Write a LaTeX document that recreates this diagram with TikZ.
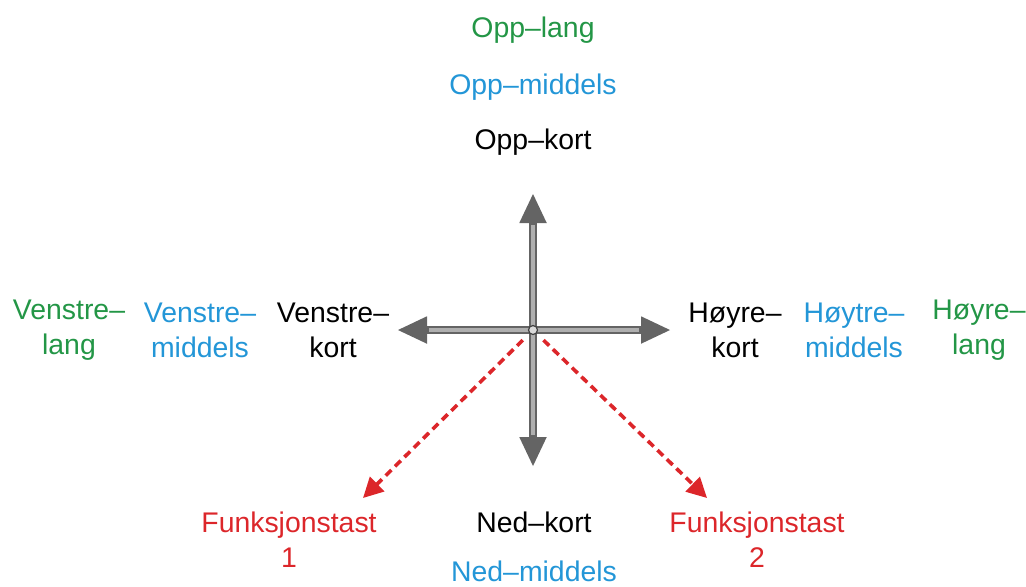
\documentclass[tikz,border=0pt]{standalone}
\usepackage{fontspec}
\setmainfont{Liberation Sans}
\usetikzlibrary{arrows.meta,calc}
\definecolor{lgreen}{RGB}{35,150,70}
\definecolor{lblue}{RGB}{35,150,215}
\definecolor{lred}{RGB}{220,38,42}
\definecolor{metal}{RGB}{100,100,100}
\definecolor{sheen}{RGB}{175,175,175}
\tikzset{
  lbl/.style={align=center, inner sep=0pt, font=\fontsize{14.2}{17.5}\selectfont},
  kortlbl/.style={lbl, text=black},
  midlbl/.style={lbl, text=lblue},
  langlbl/.style={lbl, text=lgreen},
  fnlbl/.style={lbl, text=lred},
  metalarm/.style={draw=metal, line width=4pt, -{Triangle[length=15pt,width=12.5pt]}, fill=metal},
  sheenline/.style={draw=sheen, line width=1.6pt, shorten >=16pt},
  fnarrow/.style={draw=lred, line width=1.8pt, dash pattern=on 4pt off 2.6pt, -{Triangle[length=10pt,width=10pt]}},
  hub/.style={circle, draw=black!75, fill=white!85!black, line width=0.6pt, minimum size=4.5pt, inner sep=0pt}
}
\begin{document}
\begin{tikzpicture}[x=0.5pt,y=-0.5pt]
\useasboundingbox (0,0) rectangle (1026,586);
\coordinate (c) at (533,330);
\coordinate (up) at (533,193);
\coordinate (dn) at (533,467);
\coordinate (lt) at (397,330);
\coordinate (rt) at (671,330);
\coordinate (f1) at (363,498);
\coordinate (f2) at (707,498);
% metal arms
\foreach \t in {up,dn,lt,rt}{
  \draw[metalarm] (c) -- (\t);
  \draw[sheenline] (c) -- (\t);
}
% function arrows
\draw[fnarrow] ($(c)!0.06!(f1)$) -- (f1);
\draw[fnarrow] ($(c)!0.06!(f2)$) -- (f2);
\node[hub] (hubnode) at (c) {};
% labels
\node[langlbl] (opplang) at (533,30) {Opp–lang};
\node[midlbl] (oppmid) at (533,87) {Opp–middels};
\node[kortlbl] (oppkort) at (533,142) {Opp–kort};
\node[langlbl] (vlang) at (69,330) {Venstre–\\lang};
\node[midlbl] (vmid) at (200,330) {Venstre–\\middels};
\node[kortlbl] (vkort) at (333,330) {Venstre–\\kort};
\node[kortlbl] (hkort) at (735,330) {Høyre–\\kort};
\node[midlbl] (hmid) at (854,330) {Høytre–\\middels};
\node[langlbl] (hlang) at (979,330) {Høyre–\\lang};
\node[fnlbl] (fn1) at (289,540) {Funksjonstast\\1};
\node[fnlbl] (fn2) at (757,540) {Funksjonstast\\2};
\node[kortlbl] (nedkort) at (534,522) {Ned–kort};
\node[midlbl] (nedmid) at (534,571) {Ned–middels};
\end{tikzpicture}
\end{document}
